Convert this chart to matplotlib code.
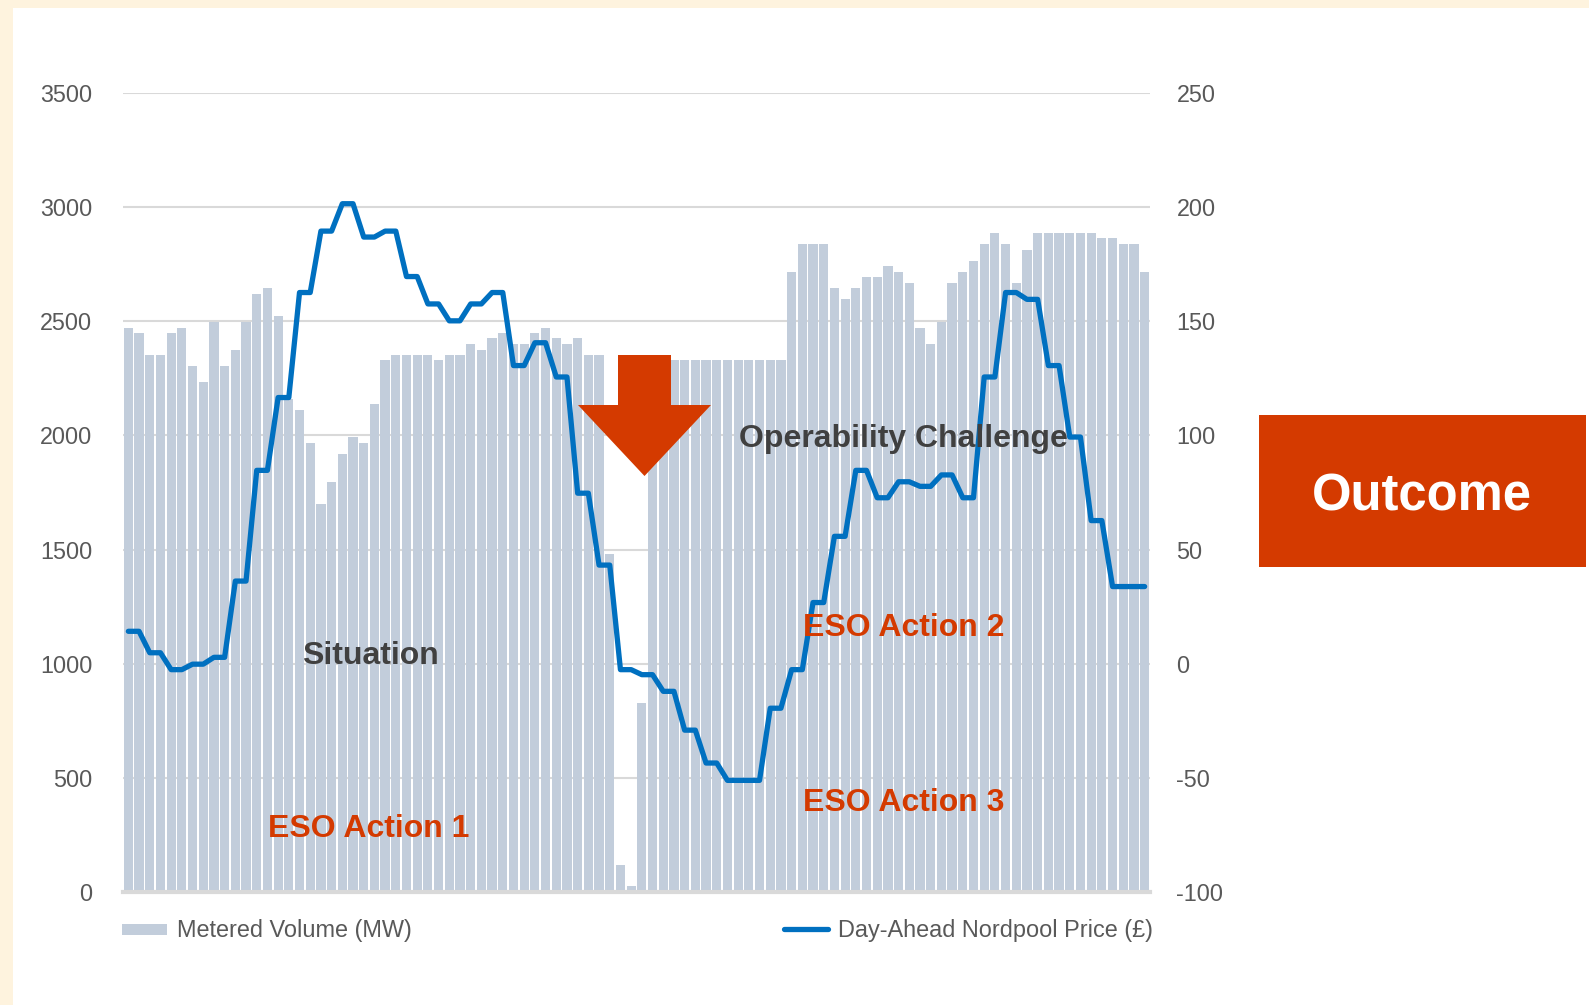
import numpy as np
import matplotlib
matplotlib.use("Agg")
import matplotlib.pyplot as plt
from matplotlib.patches import Rectangle, Polygon
from matplotlib.lines import Line2D

plt.rcParams["font.family"] = ["Liberation Sans", "DejaVu Sans"]
plt.rcParams["axes.unicode_minus"] = False

# half-hourly metered volume (MW), 96 periods
volume = [
    2472, 2450, 2352, 2352, 2450, 2472, 2304, 2232, 2498, 2304, 2376, 2498,
    2620, 2644, 2522, 2160, 2113, 1967, 1701, 1797, 1917, 1991, 1967, 2137,
    2330, 2352, 2352, 2352, 2352, 2330, 2352, 2352, 2402, 2376, 2426, 2450,
    2402, 2402, 2450, 2472, 2426, 2402, 2426, 2352, 2352, 1482, 120, 25,
    829, 2330, 2330, 2330, 2330, 2330, 2330, 2330, 2330, 2330, 2330, 2330,
    2330, 2330, 2716, 2839, 2839, 2839, 2644, 2596, 2644, 2692, 2692, 2740,
    2716, 2668, 2472, 2402, 2498, 2668, 2716, 2766, 2839, 2887, 2839, 2668,
    2814, 2887, 2887, 2887, 2887, 2887, 2887, 2863, 2863, 2839, 2839, 2716,
]

# hourly day-ahead price (GBP), 48 values, each covers two bars
price = [
    14.2, 4.8, -2.6, -0.2, 2.8, 36.2, 84.7, 116.6, 162.6, 189.5, 201.5, 186.9,
    189.5, 169.6, 157.6, 150.2, 157.6, 162.6, 130.6, 140.6, 125.6, 74.7, 43.2, -2.6,
    -4.8, -12.1, -29.1, -43.5, -51.1, -51.1, -19.5, -2.6, 26.8, 55.8, 84.7, 72.7,
    79.7, 77.7, 82.7, 72.7, 125.6, 162.6, 159.6, 130.6, 99.3, 62.7, 33.8, 33.8,
]

left_ticks = [0, 500, 1000, 1500, 2000, 2500, 3000, 3500]
right_ticks = [-100, -50, 0, 50, 100, 150, 200, 250]

BAR = "#C2CDDB"
BLUE = "#0070C0"
RED = "#D43A00"
GRID = "#D9D9D9"
TXT = "#595959"
DARK = "#404040"
CREAM = "#FEF3DE"

W, H = 1589, 1005


def fx(x):
    return x / W


def fy(y):
    return 1 - y / H


fig = plt.figure(figsize=(W / 100, H / 100), dpi=100, facecolor=CREAM)
fig.add_artist(Rectangle((fx(13), 0), 1 - fx(13), fy(8), transform=fig.transFigure,
                         facecolor="white", edgecolor="none", zorder=-1))

ax = fig.add_axes([fx(123), fy(892), fx(1150) - fx(123), fy(93) - fy(892)])
ax.set_facecolor("none")
x = np.arange(len(volume))
ax.bar(x, volume, width=0.86, color=BAR, zorder=2)
ax.set_xlim(-0.5, len(volume) - 0.5)
ax.set_ylim(0, 3500)
ax.set_yticks(left_ticks)
ax.set_xticks([])
ax.grid(axis="y", color=GRID, linewidth=1.5)
ax.set_axisbelow(True)
ax.tick_params(axis="y", length=0, pad=22, labelsize=16.8, labelcolor=TXT)
for s in ["top", "left", "right"]:
    ax.spines[s].set_visible(False)
ax.spines["bottom"].set_color(GRID)
ax.spines["bottom"].set_linewidth(3)

ax2 = ax.twinx()
ax2.plot(x, np.repeat(price, 2), color=BLUE, linewidth=3.8, solid_joinstyle="round",
         solid_capstyle="round", zorder=3)
ax2.set_ylim(-100, 250)
ax2.set_yticks(right_ticks)
ax2.tick_params(axis="y", length=0, pad=19, labelsize=16.8, labelcolor=TXT)
for s in ax2.spines.values():
    s.set_visible(False)

# annotations
labels = [
    ("Situation", 22.6, 1032, DARK),
    ("ESO Action 1", 22.5, 276, RED),
    ("Operability Challenge", 72.45, 1986, DARK),
    ("ESO Action 2", 72.5, 1156, RED),
    ("ESO Action 3", 72.5, 388, RED),
]
for txt, lx, ly, col in labels:
    ax2.text(lx, ly, txt, transform=ax.transData, ha="center", va="center",
             fontsize=23, fontweight="bold", color=col, zorder=5)

# down arrow
arrow = [(618, 355), (671, 355), (671, 405), (711, 405), (644.5, 476),
         (578, 405), (618, 405)]
fig.add_artist(Polygon([(fx(a), fy(b)) for a, b in arrow], closed=True,
                       transform=fig.transFigure, facecolor=RED, edgecolor="none"))

# outcome box
fig.add_artist(Rectangle((fx(1259), fy(567)), fx(1586) - fx(1259), fy(415) - fy(567),
                         transform=fig.transFigure, facecolor=RED, edgecolor="none"))
fig.text(fx(1422), fy(497), "Outcome", ha="center", va="center", color="white",
         fontsize=36.5, fontweight="bold")

# legend
fig.add_artist(Rectangle((fx(122), fy(935)), fx(167) - fx(122), fy(924) - fy(935),
                         transform=fig.transFigure, facecolor=BAR, edgecolor="none"))
fig.text(fx(177), fy(930), "Metered Volume (MW)", ha="left", va="center",
         fontsize=16.9, color=TXT)
fig.add_artist(Line2D([fx(784), fx(828)], [fy(929), fy(929)], transform=fig.transFigure,
                      color=BLUE, linewidth=3.8, solid_capstyle="round"))
fig.text(fx(838), fy(930), "Day-Ahead Nordpool Price (£)", ha="left", va="center",
         fontsize=16.9, color=TXT)

fig.savefig("out.png", dpi=100, facecolor=CREAM)
